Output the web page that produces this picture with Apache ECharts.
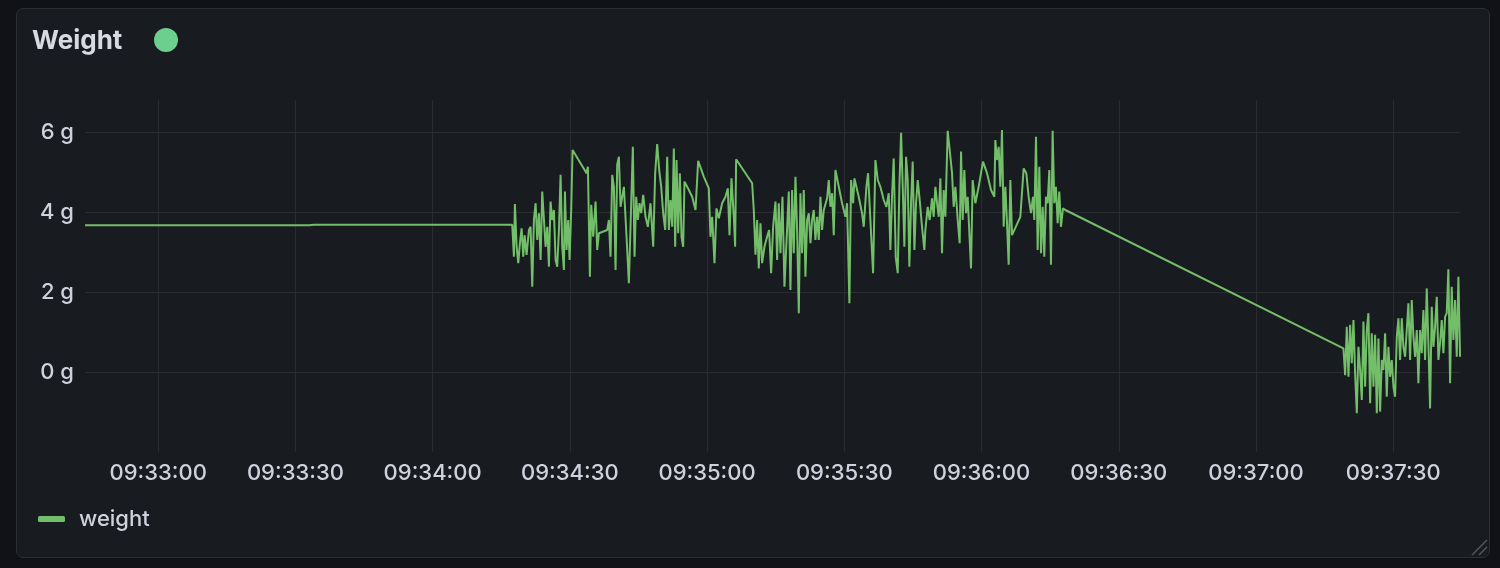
<!DOCTYPE html>
<html><head><meta charset="utf-8">
<script src="https://cdn.jsdelivr.net/npm/echarts@6/dist/echarts.min.js"></script>
<style>
html,body{margin:0;padding:0;background:#111217;overflow:hidden;}
#panel{position:absolute;left:16px;top:8px;width:1472px;height:548px;background:#181b1f;border:1px solid #2c2e33;border-radius:7px;}
#c{position:absolute;left:0;top:0;width:1500px;height:568px;}
</style>
</head><body><div id="panel"></div><div id="c"></div><script>
const panelTitle = 'Weight';
const seriesName = 'weight';
const yTickValues = [0, 2, 4, 6];
// [seconds after 09:34:00, grams]
const flatSegment = [[-76,3.67],[-27,3.67],[-26,3.68],[17.4,3.68]];
const firstBurst = [[17.63,3.68],[17.77,2.88],[17.99,4.20],[18.36,3.13],[18.72,2.72],[19.08,3.22],[19.45,3.59],[19.81,2.88],[20.10,3.42],[20.54,2.93],[21.05,3.55],[21.41,3.63],[21.78,2.13],[22.14,3.80],[22.51,4.22],[22.87,3.30],[23.24,3.97],[23.60,2.80],[23.96,4.51],[24.33,4.55],[24.69,3.13],[25.06,3.63],[25.42,2.63],[25.78,4.26],[26.15,3.80],[26.51,4.05],[26.88,2.80],[27.24,2.63],[27.61,3.55],[27.97,4.93],[28.33,3.13],[28.70,2.55],[28.92,4.51],[29.28,3.05],[29.64,3.80],[29.94,2.80],[30.30,4.09],[30.59,5.55],[33.65,4.97],[33.94,5.13],[34.38,2.38],[34.67,4.18],[35.11,3.38],[35.62,4.26],[35.98,3.05],[36.35,3.47],[38.17,3.55],[38.53,3.80],[38.89,2.88],[39.26,4.93],[39.62,4.63],[39.99,2.55],[40.35,5.18],[40.72,5.38],[41.08,4.13],[41.81,4.63],[42.39,3.38],[42.90,2.22],[43.41,4.22],[43.77,5.63],[44.14,2.88],[44.50,4.38],[44.87,3.80],[45.23,4.22],[45.59,3.97],[46.03,4.43],
[46.54,3.88],[47.05,3.63],[47.63,4.22],[48.22,3.13],[48.65,4.97],[49.09,5.70],[49.53,5.05],[49.97,4.63],[50.40,3.97],[50.84,3.55],[51.28,5.38],[51.64,3.55],[52.00,4.30],[52.37,3.63],[52.73,5.59],[53.02,3.13],[53.32,5.30],[53.68,3.47],[54.04,4.97],[54.41,3.38],[54.77,3.13],[55.06,4.76],[56.01,4.55],[56.74,4.38],[57.47,4.05],[58.05,5.28],[59.29,4.88],[60.38,4.59],[60.74,3.38],[61.11,3.88],[61.62,2.72],[62.06,4.09],[62.56,3.84],[63.29,4.22],[64.02,4.38],[64.53,4.59],[64.90,3.42],[65.33,4.84],[65.84,3.88],[66.13,3.13],[66.35,5.32],[69.85,4.72],[70.21,4.05],[70.58,2.93],[70.94,3.80],[71.30,2.59],[71.67,3.72],[72.03,2.72],[72.54,3.13],[73.12,3.38],[73.56,3.55],[74.00,2.47],[74.44,3.63],[74.95,4.26],[75.31,2.80],[75.67,4.22],[76.04,2.97],[76.48,4.38],[76.91,2.13],
[77.86,4.51],[78.22,2.05],[78.59,4.55],[78.95,2.97],[79.32,4.88],[79.68,3.55],[80.05,1.47],[80.41,4.47],[80.77,2.97],[81.14,4.55],[81.50,2.38],[81.87,3.80],[82.23,3.97],[82.60,3.22],[82.96,3.80],[83.32,4.05],[83.69,3.30],[84.05,3.88],[84.42,3.30],[84.78,4.38],[85.14,3.55],[85.51,4.05],[86.24,4.34],[86.60,4.80],[86.96,4.13],[87.33,4.47],[87.69,3.42],[88.06,5.05],[88.79,4.63],[89.51,4.22],[90.24,3.88],[90.60,4.22],[91.11,1.72],[91.48,4.80],[91.92,4.22],[92.21,4.84],[93.15,4.38],[93.88,3.97],[94.25,3.63],[94.83,4.63],[95.19,4.97],[95.70,3.80],[96.29,2.47],[96.80,5.30],[97.31,4.80],[97.89,4.63],[98.62,4.30],[99.20,4.13],[99.71,4.47],[100.07,3.05],[100.44,4.43],[100.80,5.34],[101.24,2.88],[101.68,2.47],[102.04,4.63],[102.41,5.98],[102.77,4.63],[103.13,3.13],[103.50,5.38],[103.86,4.80],[104.22,2.63],[104.59,4.22],[104.95,5.26],[105.32,3.05],[105.68,4.22],[106.05,4.80],[106.48,4.30],[106.99,3.63],[107.50,3.05],
[107.72,3.55],[108.23,4.13],[108.67,3.80],[109.18,4.34],[109.54,3.88],[109.91,4.63],[110.27,4.22],[110.64,3.88],[111.00,4.84],[111.36,2.97],[111.73,4.55],[112.09,3.88],[112.60,6.03],[113.04,5.55],[113.55,4.97],[113.91,4.13],[114.28,4.63],[114.79,3.80],[115.22,3.22],[115.52,5.51],[115.88,3.80],[116.24,5.05],[116.61,3.97],[116.97,4.38],[117.34,3.47],[117.70,2.59],[118.06,4.80],[118.65,4.22],[119.37,4.63],[120.32,5.26],[121.20,4.97],[122.07,4.55],[122.80,4.38],[123.02,5.80],[123.38,5.30],[123.75,5.63],[124.11,4.63],[124.47,6.05],[124.84,3.63],[125.20,4.63],[125.57,3.72],[125.93,2.68],[126.30,4.80],[126.66,3.42],[128.48,3.88],[129.21,5.09],[129.79,4.97],[130.30,4.38],[130.81,3.97],[131.25,4.38],[131.54,3.80],[131.91,5.88],[132.27,3.05],[132.63,5.13],[133.00,2.97],[133.36,4.13],[133.72,2.88],[134.09,4.38],[134.45,4.22],[134.82,5.05],[135.18,2.68],[135.54,6.03],[135.91,4.22],[136.27,4.63],[136.64,3.72],[137.00,4.51],[137.36,3.63],[137.80,4.09],[138.31,4.05]];
const lastBurst = [[199.12,0.59],[199.49,-0.08],[199.85,1.13],[200.22,-0.12],[200.58,1.18],[200.94,0.22],[201.31,1.30],[201.67,-0.03],[202.04,-1.03],[202.40,0.63],[202.76,0.05],[203.13,-0.70],[203.49,1.26],[203.86,-0.37],[204.22,1.05],[204.58,1.47],[204.95,-0.78],[205.31,0.97],[205.68,-0.37],[206.04,0.93],[206.41,-1.03],[206.77,0.84],[207.13,-0.99],[207.50,0.30],[207.86,0.05],[208.23,0.97],[208.59,-0.62],[208.95,0.63],[209.32,-0.12],[209.68,0.30],[210.05,-0.37],[210.41,-0.62],[210.78,0.88],[211.14,1.34],[211.50,0.30],[211.87,1.34],[212.23,0.63],[212.60,0.38],[212.96,1.05],[213.32,1.72],[213.69,0.30],[214.05,1.80],[214.42,0.88],[214.78,0.38],[215.15,1.05],[215.51,-0.28],[215.87,1.05],[216.24,0.47],[216.60,1.55],[216.97,0.30],[217.33,2.09],[217.69,0.72],[218.06,-0.91],[218.42,1.63],[218.79,0.63],[219.15,1.13],[219.52,1.88],[219.88,0.30],[220.24,0.72],[220.61,1.30],[220.97,0.47],[221.34,1.38],[221.70,1.47],[222.06,2.57],[222.43,-0.28],[222.79,2.13],[223.16,0.80],[223.52,1.80],[223.89,0.38],[224.25,2.38],[224.61,0.38]];

const base = new Date(2024, 0, 1, 9, 34, 0).getTime();
const xMinSec = -76, xMaxSec = 224.6;
const points = flatSegment.concat(firstBurst, lastBurst).map(p => [base + p[0] * 1000, p[1]]);

const txt = '#d0d1dc';
const gridC = '#2a2c31';
const font = 'Inter, "Noto Sans", sans-serif';
const chart = echarts.init(document.getElementById('c'), null, {renderer: 'canvas'});
chart.setOption({
  animation: false,
  backgroundColor: 'transparent',
  title: {text: panelTitle, left: 32, top: 28, padding: 0, textStyle: {color: '#d8d9e3', fontSize: 26, fontWeight: 700, fontFamily: font}},
  legend: {
    left: 38, top: 508, padding: 0, itemWidth: 27, itemHeight: 6, icon: 'roundRect',
    data: [{name: seriesName}],
    textStyle: {color: txt, fontSize: 22, fontWeight: 500, fontFamily: font, padding: [0, 0, 0, 9]}
  },
  grid: {left: 85, right: 40, top: 100, bottom: 116, containLabel: false},
  xAxis: {
    type: 'time', min: base + xMinSec * 1000, max: base + xMaxSec * 1000,
    splitNumber: 9,
    axisLine: {show: false}, axisTick: {show: false},
    axisLabel: {formatter: '{HH}:{mm}:{ss}', color: txt, fontSize: 22, fontWeight: 500, fontFamily: font, margin: 10, showMinLabel: false, showMaxLabel: false, hideOverlap: false},
    splitLine: {show: true, showMinLine: false, showMaxLine: false, lineStyle: {color: gridC, width: 1}}
  },
  yAxis: {
    type: 'value', min: -2, max: 6.8, interval: 2,
    axisLine: {show: false}, axisTick: {show: false},
    axisLabel: {formatter: v => yTickValues.includes(v) ? v + ' g' : '', color: txt, fontSize: 22, fontWeight: 500, fontFamily: font, margin: 11},
    splitLine: {show: true, showMinLine: false, showMaxLine: false, lineStyle: {color: gridC, width: 1}}
  },
  series: [{
    name: seriesName, type: 'line', data: points, showSymbol: false, symbol: 'none',
    color: '#73bf69', lineStyle: {width: 2, color: '#73bf69'}
  }],
  graphic: [
    {type: 'circle', shape: {cx: 166, cy: 40, r: 12}, style: {fill: '#6ccf8e'}, silent: true},
    {type: 'line', shape: {x1: 1472, y1: 555, x2: 1487, y2: 540}, style: {stroke: '#55575d', lineWidth: 1.5}, silent: true},
    {type: 'line', shape: {x1: 1479, y1: 555, x2: 1487, y2: 547}, style: {stroke: '#55575d', lineWidth: 1.5}, silent: true}
  ]
});
</script></body></html>
